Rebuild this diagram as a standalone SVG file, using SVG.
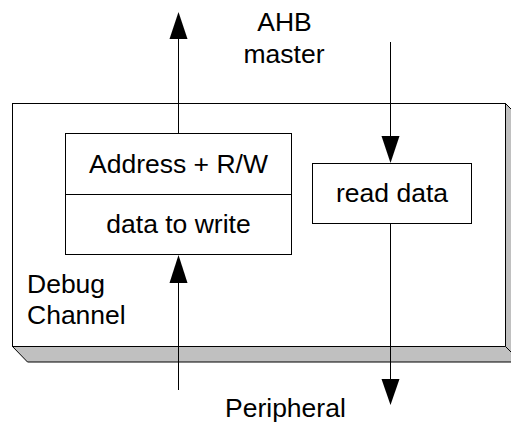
<svg xmlns="http://www.w3.org/2000/svg" width="511" height="423" viewBox="0 0 511 423">
<defs>
<style>
text{font-family:"Liberation Sans",Arial,sans-serif;font-size:26.5px;fill:#000}
.box{fill:#fff;stroke:#000;stroke-width:1}
.slab{fill:#c0c0c0;stroke:#000;stroke-width:1;stroke-linejoin:miter}
.wire{stroke:#000;stroke-width:1;fill:none}
.head{fill:#000;stroke:none}
.mid{text-anchor:middle}
</style>
</defs>
<rect width="511" height="423" fill="#fff"/>
<g id="debug-channel">
<rect class="box" x="12.5" y="103.5" width="493" height="243"/>
<polygon class="slab" points="12.5,346.5 505.5,346.5 521,362 27.5,362"/>
<polygon class="slab" points="505.5,103.5 521,119 521,362 505.5,346.5"/>
<text x="27" y="293">Debug</text>
<text x="27" y="324">Channel</text>
</g>
<g id="write-buffer">
<rect class="box" x="65.5" y="133.5" width="226" height="121"/>
<line class="wire" x1="65.5" y1="194.5" x2="291.5" y2="194.5"/>
<text class="mid" x="178.5" y="173">Address + R/W</text>
<text class="mid" x="178.5" y="233">data to write</text>
</g>
<g id="read-data">
<rect class="box" x="312.5" y="163.5" width="159" height="60"/>
<text class="mid" x="392" y="202">read data</text>
</g>
<g id="labels">
<text class="mid" x="284.5" y="31">AHB</text>
<text class="mid" x="284" y="63">master</text>
<text x="225" y="417">Peripheral</text>
</g>
<g id="connectors">
<line class="wire" x1="178.5" y1="133.5" x2="178.5" y2="38"/>
<polygon class="head" points="178.5,12 169.5,39 187.5,39"/>
<line class="wire" x1="178.5" y1="390" x2="178.5" y2="282"/>
<polygon class="head" points="178.5,255 169.5,283 187.5,283"/>
<line class="wire" x1="390.5" y1="42" x2="390.5" y2="137"/>
<polygon class="head" points="390.5,163 381.5,136 399.5,136"/>
<line class="wire" x1="390.5" y1="224" x2="390.5" y2="380"/>
<polygon class="head" points="390.5,405 381.5,379 399.5,379"/>
</g>
</svg>
